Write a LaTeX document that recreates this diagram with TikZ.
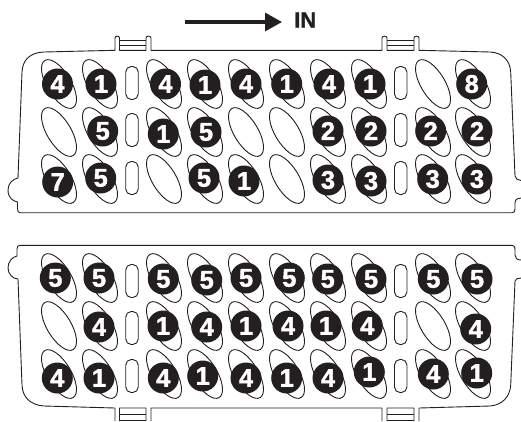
\documentclass[tikz,border=0pt]{standalone}
\usepackage{fontspec}
\setmainfont{Liberation Sans}
\newfontface\heavyface{Liberation Sans Bold}[FakeBold=1.5]
\usetikzlibrary{shapes.geometric,arrows.meta}
\definecolor{ink}{HTML}{231F20}
\tikzset{
  hole/.style={draw=ink,line width=0.9pt,ellipse,rotate=-59,minimum width=55pt,minimum height=24pt,inner sep=0pt,outer sep=0pt},
  slot/.style={draw=ink,line width=0.9pt,rounded corners=5.5pt,minimum width=12.5pt,minimum height=33pt,inner sep=0pt},
  disc/.style={circle,fill=ink,text=white,minimum size=31pt,inner sep=0pt,font=\heavyface\fontsize{25.5}{25.5}\selectfont},
  outline/.style={draw=ink,line width=0.9pt,line join=round},
  thin/.style={draw=ink,line width=0.8pt},
  flow/.style={draw=ink,line width=3.2pt,-{Triangle[length=17pt,width=18pt]}},
}
\begin{document}
\begin{tikzpicture}[x=1pt,y=-1pt]
\useasboundingbox (0,0) rectangle (521,421);
% top panel outline
\draw[outline] (20,212.7) .. controls (18,212.7) and (17.5,211) .. (17.5,208) -- (17.5,202)
  .. controls (13,201) and (8,198) .. (8,190) .. controls (8,183) and (13,179) .. (18,178)
  -- (22,72) .. controls (22.5,60) and (30,52.5) .. (44,52) -- (115,50.3) -- (115,38)
  .. controls (115,35.5) and (119.5,35.5) .. (119.5,38) -- (119.5,50.3) -- (146,50.3) -- (146,38)
  .. controls (146,35.5) and (151,35.5) .. (151,38) -- (151,50.3) -- (382,50.3) -- (382,38)
  .. controls (382,35.5) and (387,35.5) .. (387,38) -- (387,50.3) -- (414,50.3) -- (414,38)
  .. controls (414,35.5) and (419,35.5) .. (419,38) -- (419,50.3) -- (490,52)
  .. controls (502,52.5) and (510,60) .. (510.7,72) -- (515,176) .. controls (515.2,179) and (518,180) .. (521,180.5)
  (521,198) .. controls (517,198.5) and (515,199.5) .. (515,203) -- (515,209) .. controls (515,211.5) and (514,212.7) .. (512,212.7) -- (20,212.7);
\draw[thin] (119.5,40) -- (146,40) (119.5,45) -- (146,45)
            (387,40) -- (414,40) (387,45) -- (414,45);
% bottom panel outline
\draw[outline] (20,245.3) .. controls (18,245.3) and (17,246.5) .. (17,249) -- (17,256)
  .. controls (12,257) and (8,262) .. (8,268) .. controls (8,274) and (13,279) .. (18,279)
  -- (22,385) .. controls (22.5,397) and (30,405) .. (44,406) -- (115,408) -- (115,421)
  (119.5,421) -- (119.5,408) -- (146,408) -- (146,421)
  (151,421) -- (151,408) -- (382,408) -- (382,421)
  (387,421) -- (387,408) -- (414,408) -- (414,421)
  (419,421) -- (419,408) -- (490,406) .. controls (502,405) and (510,397) .. (510.7,385)
  -- (515,281) .. controls (515.2,279) and (518,278) .. (521,278)
  (521,260) .. controls (517,260) and (515,258) .. (515,255) -- (515,250) .. controls (515,246.5) and (514,245.3) .. (512,245.3) -- (20,245.3);
\draw[thin] (119.5,414) -- (146,414) (119.5,420) -- (146,420)
            (387,414) -- (414,414) (387,420) -- (414,420);
% holes
\foreach \cx [count=\i] in {59,100,164,205,246,287,328,369,433,473}{
  \foreach \cy [count=\j] in {84,132,179,278,326,374}{
    \node[hole] (h\i-\j) at (\cx,\cy) {};
  }
}
% slots
\foreach \sx [count=\i] in {132,400.7}{
  \foreach \sy [count=\j] in {83,130,178,281,328,376}{
    \node[slot] (s\i-\j) at (\sx,\sy) {};
  }
}
% discs
\foreach \dx/\dy/\dn [count=\k] in {
 57.5/84/4,101/84/1,165.5/84/4,205/85/1,246/84/4,286.7/84/1,329/84/4,370/84/1,471.7/84/8,
 102.7/131/5,163.3/134/1,206/132/5,328/131/2,371/131/2,430.7/131/2,477/131/2,
 57.7/182/7,100.7/178/5,204/178/5,244/181/1,328/180/3,371/181/3,432.7/179/3,477/179/3,
 55.3/278/5,99/278/5,163.3/279/5,206.7/280/5,246/278/5,289.3/278/5,327.7/279/5,371/279/5,433.3/279/5,477/279/5,
 99/327/4,163/326/1,206.7/327/4,246/326/1,288/326/4,326/326/1,367.3/326/4,475.7/329/4,
 57.3/378/4,99/378/1,163.3/378/4,202.7/376/1,246/378/4,286.7/378/1,328/378/4,369.3/372/1,433.3/374/4,476.7/373/1}{
  \node[disc] (d\k) at (\dx,\dy) {\dn};
}
% arrow and label
\coordinate (arrowstart) at (185,22);
\coordinate (arrowend) at (282,22);
\draw[flow] (arrowstart) -- (arrowend);
\node[anchor=west,inner sep=0pt,text=ink,font=\heavyface\fontsize{22}{22}\selectfont] (inlabel) at (294,20) {IN};
\end{tikzpicture}
\end{document}
